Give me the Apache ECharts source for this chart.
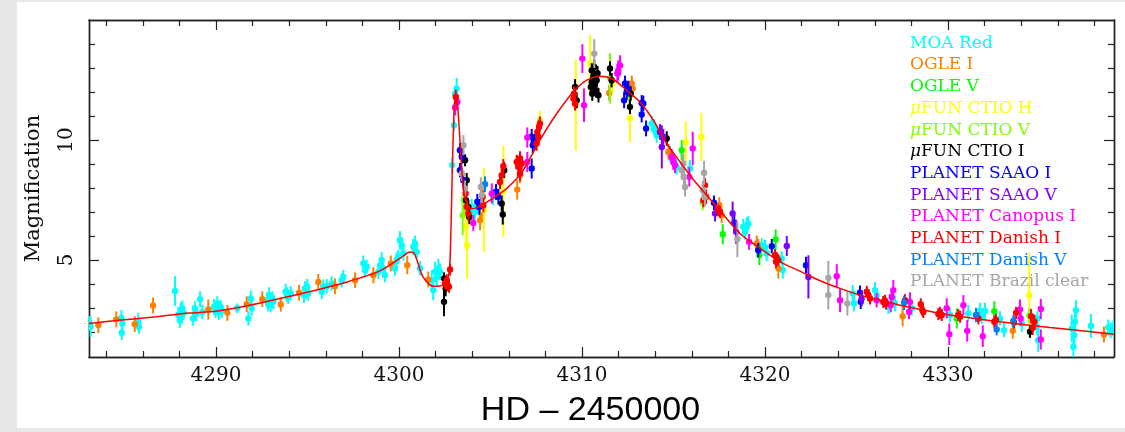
<!DOCTYPE html>
<html><head><meta charset="utf-8">
<script src="https://cdn.jsdelivr.net/npm/echarts@6/dist/echarts.min.js"></script>
<style>
html,body{margin:0;padding:0;background:#e8e8e8;overflow:hidden;}
#panel{position:absolute;left:17px;top:2px;width:1108px;height:426px;background:#fff;}
#chart{position:absolute;left:0;top:0;width:1125px;height:432px;}
</style></head><body>
<div id="panel"></div><div id="chart"></div>
<script>
// ---- tick values ----
const xMajorTicks = [4290, 4300, 4310, 4320, 4330];
const xMinorTicks = [4284,4286,4288,4292,4294,4296,4298,4302,4304,4306,4308,4312,4314,4316,4318,4322,4324,4326,4328,4332,4334,4336,4338];
const yMajorTicks = [5, 10];
const yMinorTicks = [2,3,4,6,7,8,9,11,12,13,14];

// ---- series names / colours ----
const seriesNames = ['MOA Red','OGLE I','OGLE V','μFUN CTIO H','μFUN CTIO V','μFUN CTIO I','PLANET SAAO I','PLANET SAAO V','PLANET Canopus I','PLANET Danish I','PLANET Danish V','PLANET Brazil clear'];

// ---- data: [HJD-2450000, magnification, error] ----
const moaRed = [[4283.15,2.21,0.42],[4283.10,2.36,0.3],[4284.83,2.58,0.33],[4284.88,2.35,0.33],[4284.85,1.96,0.3],[4285.75,2.42,0.38],[4285.79,2.21,0.3],[4287.76,3.70,0.62],[4287.94,2.70,0.33],[4288.02,2.49,0.33],[4288.07,2.90,0.33],[4288.12,2.62,0.3],[4288.16,2.98,0.33],[4288.22,2.80,0.3],[4288.74,2.56,0.3],[4288.85,2.98,0.3],[4288.92,2.75,0.3],[4289.13,3.36,0.33],[4289.25,2.83,0.3],[4289.89,3.04,0.33],[4289.98,2.90,0.33],[4290.07,3.18,0.3],[4290.12,2.95,0.3],[4290.16,2.83,0.33],[4290.26,3.02,0.3],[4290.32,2.88,0.3],[4291.16,2.98,0.2],[4291.77,2.56,0.3],[4291.90,3.39,0.33],[4291.95,2.98,0.3],[4292.80,3.32,0.33],[4292.85,3.15,0.3],[4292.90,3.53,0.33],[4292.99,3.11,0.3],[4293.08,3.39,0.3],[4293.14,3.25,0.3],[4293.81,3.67,0.33],[4293.88,3.55,0.3],[4293.95,3.46,0.3],[4294.08,3.60,0.3],[4294.81,3.53,0.33],[4294.86,3.81,0.3],[4294.93,3.68,0.3],[4294.99,3.88,0.33],[4295.04,3.60,0.3],[4295.78,3.67,0.3],[4295.86,3.88,0.3],[4296.05,3.90,0.3],[4296.32,4.02,0.3],[4296.87,4.15,0.3],[4296.96,4.29,0.3],[4298.05,4.85,0.33],[4298.14,4.57,0.3],[4298.23,4.71,0.3],[4298.87,4.50,0.3],[4298.96,4.78,0.33],[4299.05,4.99,0.33],[4299.14,4.64,0.3],[4299.23,4.36,0.3],[4299.78,4.64,0.3],[4299.87,4.99,0.33],[4299.96,5.13,0.3],[4300.05,5.82,0.38],[4300.15,5.61,0.33],[4300.24,5.27,0.3],[4300.78,5.54,0.33],[4300.87,5.68,0.33],[4300.97,5.33,0.3],[4301.15,4.64,0.3],[4301.79,4.15,0.42],[4301.87,3.74,0.42],[4301.97,4.50,0.42],[4302.06,4.29,0.42],[4302.15,4.64,0.4],[4302.24,4.50,0.35],[4302.91,8.95,0.33],[4303.01,10.61,0.25],[4303.06,11.93,0.33],[4303.15,12.14,0.45],[4303.88,6.93,0.33],[4303.97,7.21,0.33],[4304.15,7.00,0.33],[4305.15,7.63,0.35],[4313.81,10.68,0.33],[4313.93,10.54,0.33],[4313.99,10.40,0.33],[4314.08,10.20,0.33],[4314.81,9.43,0.33],[4315.17,8.88,0.33],[4315.90,8.81,0.35],[4318.81,6.38,0.33],[4318.91,6.17,0.33],[4319.00,6.45,0.33],[4319.09,6.52,0.3],[4319.82,5.61,0.3],[4320.00,5.54,0.3],[4320.09,5.27,0.33],[4320.91,5.06,0.3],[4320.97,4.57,0.35],[4324.79,3.60,0.35],[4324.86,3.18,0.33],[4326.01,3.74,0.33],[4326.10,3.53,0.3],[4326.74,3.04,0.3],[4327.10,3.18,0.33],[4328.02,2.98,0.3],[4330.11,2.70,0.3],[4331.11,2.77,0.35],[4331.75,2.88,0.33],[4331.84,2.63,0.3],[4332.02,2.88,0.33],[4332.84,2.56,0.3],[4333.06,2.07,0.3],[4334.03,2.35,0.35],[4334.85,2.21,0.35],[4334.88,2.56,0.3],[4334.93,1.65,0.5],[4336.76,2.14,0.58],[4336.85,1.38,0.42],[4336.90,1.86,0.5],[4336.94,2.42,0.5],[4336.99,2.90,0.42],[4337.81,2.25,0.5],[4338.76,2.18,0.33],[4338.89,2.07,0.33],[4339.03,2.14,0.33]];
const ogleI = [[4283.57,2.28,0.33],[4284.55,2.52,0.33],[4285.56,2.32,0.33],[4286.56,3.10,0.33],[4289.58,2.93,0.42],[4290.62,2.79,0.33],[4291.68,3.15,0.33],[4292.53,3.36,0.33],[4293.54,3.14,0.3],[4294.54,3.63,0.33],[4295.59,4.08,0.33],[4296.50,3.90,0.33],[4297.60,4.15,0.33],[4298.60,4.36,0.33],[4299.55,4.85,0.33],[4300.45,4.78,0.38],[4301.60,4.18,0.33],[4304.43,6.65,0.42],[4304.52,6.93,0.33],[4306.46,7.93,0.42],[4306.61,8.53,0.33],[4311.49,11.96,0.33],[4312.72,12.35,0.33],[4312.77,12.14,0.3],[4314.72,9.50,0.33],[4317.50,7.28,0.33],[4317.63,6.86,0.33],[4319.55,5.68,0.33],[4319.63,5.54,0.33],[4320.73,4.64,0.42],[4327.52,2.65,0.42],[4333.54,2.04,0.33],[4338.52,1.89,0.33]];
const ogleV = [[4315.45,9.57,0.42],[4317.69,6.07,0.42],[4319.69,5.20,0.42],[4320.58,5.85,0.42],[4330.48,2.56,0.42],[4332.53,2.86,0.42]];
const mufunH = [[4303.72,5.61,1.4],[4303.66,6.40,1.0],[4304.64,7.07,1.75],[4305.70,7.86,1.9],[4307.70,10.82,0.4],[4309.66,11.45,1.9],[4310.44,13.18,1.2],[4311.66,12.35,0.4],[4312.62,10.9,1.0],[4315.67,9.92,0.85],[4316.52,10.13,1.0],[4334.44,3.53,1.75]];
const mufunV = [[4303.48,6.86,0.83],[4303.55,7.49,0.5],[4311.53,12.57,1.05],[4312.58,11.79,0.33],[4316.59,7.40,0.33],[4334.44,2.68,0.3]];
const mufunI = [[4302.46,4.23,0.25],[4302.46,3.25,0.6],[4302.55,3.81,0.33],[4303.61,9.15,0.25],[4303.70,8.32,0.3],[4303.66,7.49,0.3],[4303.79,7.21,0.3],[4303.84,6.79,0.3],[4305.61,7.35,0.33],[4305.67,6.89,0.42],[4305.75,8.74,0.33],[4309.62,12.21,0.33],[4309.71,11.65,0.33],[4310.48,12.21,0.3],[4310.53,12.90,0.3],[4310.62,12.63,0.3],[4310.71,12.35,0.3],[4310.77,12.07,0.3],[4310.56,11.93,0.3],[4310.67,13.04,0.3],[4310.80,12.49,0.3],[4310.62,12.28,0.3],[4310.53,12.42,0.3],[4310.85,12.78,0.3],[4310.90,11.86,0.3],[4311.53,12.98,0.3],[4311.62,12.49,0.3],[4312.62,11.38,0.3],[4312.66,11.93,0.3],[4314.63,10.06,0.3],[4334.48,2.00,0.25]];
const saaoI = [[4303.33,9.57,0.3],[4303.43,9.29,0.3],[4303.51,8.32,0.3],[4303.33,8.74,0.3],[4304.28,7.42,0.33],[4304.39,7.21,0.33],[4305.30,7.83,0.33],[4305.43,7.63,0.33],[4307.25,10.13,0.33],[4307.31,9.78,0.33],[4307.25,8.81,0.42],[4307.43,9.92,0.33],[4312.35,12.35,0.33],[4312.44,12.00,0.33],[4312.30,11.65,0.33],[4312.53,12.14,0.33],[4313.26,11.54,0.33],[4313.35,11.52,0.33],[4313.26,11.06,0.33],[4313.50,10.48,0.33],[4317.21,7.38,0.3],[4318.32,6.54,0.33],[4319.63,5.40,0.3],[4320.37,5.57,0.3],[4322.24,4.78,0.35],[4325.19,3.63,0.3],[4325.23,3.25,0.3]];
const saaoV = [[4314.26,10.33,0.33],[4314.36,9.71,0.9],[4314.44,10.13,0.33],[4317.27,6.93,0.33],[4318.23,6.93,0.5],[4318.42,6.17,0.5],[4321.19,5.58,0.42],[4322.37,4.29,0.9],[4325.28,3.39,0.33]];
const canopusI = [[4303.06,11.35,0.33],[4303.19,11.58,0.33],[4304.06,6.54,0.33],[4305.07,7.77,0.42],[4307.01,10.10,0.42],[4307.01,9.08,0.42],[4310.02,13.39,0.6],[4310.11,11.45,0.7],[4311.98,12.90,0.42],[4312.08,13.11,0.42],[4311.93,12.77,0.4],[4314.90,9.29,0.33],[4314.99,9.08,0.33],[4315.08,8.95,0.33],[4316.05,9.64,0.7],[4315.86,8.46,0.4],[4319.13,5.75,0.33],[4323.92,4.32,0.5],[4324.10,3.32,0.5],[4326.10,3.32,0.3],[4327.01,3.74,0.42],[4326.92,3.46,0.3],[4326.87,3.11,0.3],[4327.92,3.25,0.4],[4327.87,2.83,0.3],[4329.93,2.98,0.42],[4330.07,1.90,0.45],[4330.84,3.11,0.42],[4331.05,2.04,0.45],[4331.90,1.82,0.45],[4333.93,2.93,0.42],[4333.97,2.56,0.3],[4335.07,2.95,0.42],[4335.07,1.68,0.42]];
const danishI = [[4302.51,4.02,0.25],[4302.61,4.15,0.25],[4302.66,3.95,0.25],[4302.73,3.88,0.25],[4302.79,4.60,0.25],[4303.10,11.79,0.3],[4303.70,7.21,0.3],[4303.79,6.93,0.3],[4303.64,7.77,0.3],[4304.57,7.63,0.3],[4304.61,7.28,0.3],[4305.52,8.25,0.3],[4305.61,8.53,0.3],[4305.70,8.90,0.3],[4306.43,9.08,0.3],[4306.52,8.88,0.3],[4306.61,9.23,0.3],[4306.70,9.02,0.3],[4306.61,8.60,0.3],[4307.56,10.33,0.3],[4307.65,10.54,0.3],[4307.70,10.68,0.3],[4307.61,10.13,0.3],[4307.52,9.85,0.3],[4309.56,11.93,0.3],[4309.62,11.52,0.3],[4309.53,11.73,0.3],[4316.72,8.11,0.3],[4316.78,7.63,0.3],[4316.63,7.49,0.3],[4317.45,7.07,0.25],[4317.54,7.00,0.25],[4320.55,5.20,0.25],[4320.64,5.06,0.25],[4320.73,4.99,0.25],[4320.60,4.92,0.25],[4325.56,3.67,0.25],[4325.65,3.53,0.25],[4325.74,3.39,0.25],[4326.46,3.25,0.25],[4326.61,3.18,0.25],[4326.56,3.29,0.25],[4327.65,3.32,0.25],[4328.51,3.15,0.25],[4328.60,2.90,0.25],[4328.65,2.83,0.25],[4329.47,2.74,0.25],[4329.56,2.79,0.25],[4329.66,2.70,0.25],[4330.56,2.70,0.25],[4330.66,2.63,0.25],[4331.66,2.56,0.25],[4332.53,2.42,0.25],[4332.62,2.49,0.25],[4333.61,2.39,0.25],[4333.72,2.79,0.25],[4334.54,2.65,0.3],[4334.63,2.17,0.3],[4334.72,2.42,0.3]];
const danishV = [[4304.70,8.15,0.33],[4327.60,3.21,0.3],[4331.53,2.70,0.3],[4332.66,2.10,0.25],[4333.57,2.45,0.25]];
const brazil = [[4303.52,9.78,0.42],[4303.43,8.60,0.33],[4303.61,7.98,0.33],[4304.47,8.04,0.4],[4304.52,7.70,0.33],[4310.67,13.60,0.6],[4315.45,8.74,0.4],[4315.57,8.46,0.4],[4315.54,9.02,0.4],[4315.63,8.04,0.4],[4316.67,8.63,0.5],[4316.60,7.90,0.4],[4316.72,7.63,0.4],[4318.49,5.86,0.75],[4323.46,4.25,0.7],[4323.46,3.53,0.6],[4324.50,3.18,0.5]];

// ---- model curve ----
const modelT = [4283.06,4284.86,4286.72,4288.52,4290.00,4291.86,4293.50,4295.14,4297.16,4298.96,4300.05,4300.60,4300.82,4300.98,4301.31,4301.86,4302.40,4302.68,4302.79,4302.90,4303.01,4303.11,4303.22,4303.33,4303.50,4303.70,4303.97,4304.43,4304.97,4305.89,4306.79,4307.70,4308.62,4309.52,4310.26,4310.98,4311.71,4312.44,4313.17,4313.90,4314.63,4315.36,4316.08,4316.81,4317.54,4318.63,4319.73,4320.82,4321.91,4323.01,4324.10,4325.19,4326.28,4327.38,4330.11,4332.84,4335.57,4339.07];
const modelA = [2.35,2.49,2.63,2.78,2.86,3.11,3.39,3.68,4.08,4.54,5.06,5.33,5.28,4.99,4.29,3.90,3.95,4.24,4.99,8.32,11.24,11.90,11.24,9.99,8.11,7.36,7.13,7.24,7.49,7.98,8.74,9.99,11.10,12.00,12.49,12.65,12.52,12.07,11.58,10.82,9.85,9.08,8.35,7.70,7.05,6.10,5.48,4.92,4.53,4.13,3.81,3.53,3.32,3.11,2.70,2.42,2.18,1.90];

const seriesData = [moaRed, ogleI, ogleV, mufunH, mufunV, mufunI, saaoI, saaoV, canopusI, danishI, danishV, brazil];
const colors = ['#00ffff','#ff8000','#00ff00','#ffff00','#80ff00','#000000','#0000ff','#8000ff','#ff00ff','#ff0000','#0080ff','#a6a6a6'];

const xMin = 4283.06, xMax = 4339.07, yMin = 0.95, yMax = 15.0;
const frame = '#222';
const serif = 'DejaVu Serif';

function mkX(pos, ticks, len, main) {
  return {
    type: 'value', position: pos, min: xMin, max: xMax,
    axisLine: {show: true, onZero: false, lineStyle: {color: frame, width: 1.4}},
    axisTick: {show: true, inside: true, length: len, customValues: ticks, lineStyle: {color: frame, width: 1.2}},
    axisLabel: main ? {show: true, customValues: xMajorTicks, formatter: v => String(v), fontFamily: serif, fontSize: 20, color: '#111', margin: 9} : {show: false},
    splitLine: {show: false},
    name: main ? 'HD – 2450000' : '', nameLocation: 'middle', nameGap: 37,
    nameTextStyle: {fontFamily: 'Liberation Sans', fontSize: 34, color: '#000', padding: [0, 22, 0, 0]}
  };
}
function mkY(pos, ticks, len, main) {
  return {
    type: 'value', position: pos, min: yMin, max: yMax,
    axisLine: {show: true, onZero: false, lineStyle: {color: frame, width: 1.4}},
    axisTick: {show: true, inside: true, length: len, customValues: ticks, lineStyle: {color: frame, width: 1.2}},
    axisLabel: main ? {show: true, customValues: yMajorTicks, formatter: v => String(v), rotate: 90, fontFamily: serif, fontSize: 20, color: '#111', margin: 12} : {show: false},
    splitLine: {show: false},
    name: main ? 'Magnification' : '', nameLocation: 'middle', nameGap: 45,
    nameTextStyle: {fontFamily: serif, fontSize: 21, color: '#111'}
  };
}

const chart = echarts.init(document.getElementById('chart'), null, {renderer: 'canvas'});

const pointSeries = seriesData.map((d, i) => ({
  type: 'custom', name: seriesNames[i], data: d, xAxisIndex: 0, yAxisIndex: 0,
  clip: true, z: 2 + i * 0.01,
  encode: {x: 0, y: 1},
  renderItem: (params, api) => {
    const t = api.value(0), a = api.value(1), e = api.value(2);
    const p = api.coord([t, a]);
    const hi = api.coord([t, a + e]);
    const lo = api.coord([t, a - e]);
    return {type: 'group', children: [
      {type: 'line', shape: {x1: p[0], y1: hi[1], x2: p[0], y2: lo[1]}, style: {stroke: colors[i], lineWidth: 2}},
      {type: 'circle', shape: {cx: p[0], cy: p[1], r: 3.2}, style: {fill: colors[i]}}
    ]};
  }
}));

chart.setOption({
  animation: false,
  backgroundColor: 'transparent',
  grid: {left: 89, right: 11, top: 20, bottom: 75, containLabel: false, outerBoundsMode: 'none'},
  xAxis: [mkX('bottom', xMajorTicks, 10, true), mkX('bottom', xMinorTicks, 6, false), mkX('top', xMajorTicks, 10, false), mkX('top', xMinorTicks, 6, false)],
  yAxis: [mkY('left', yMajorTicks, 10, true), mkY('left', yMinorTicks, 6, false), mkY('right', yMajorTicks, 10, false), mkY('right', yMinorTicks, 6, false)],
  legend: {
    orient: 'vertical', left: 905, top: 32.5, padding: 0, itemGap: 0,
    icon: 'none', itemWidth: 0, itemHeight: 14, selectedMode: false,
    data: seriesNames.map((n, i) => ({name: n, textStyle: {color: colors[i]}})),
    formatter: n => n.charAt(0) === 'μ' ? '{mu|μ}' + n.slice(1) : n,
    textStyle: {fontFamily: serif, fontSize: 17, lineHeight: 21.7,
      rich: {mu: {fontStyle: 'italic', fontFamily: serif, fontSize: 17, lineHeight: 21.7}}}
  },
  series: pointSeries.concat([{
    type: 'line', name: 'model', data: modelT.map((t, k) => [t, modelA[k]]),
    xAxisIndex: 0, yAxisIndex: 0, showSymbol: false, symbol: 'none', smooth: 0.25,
    lineStyle: {color: '#ff0000', width: 1.5}, z: 5, clip: true, silent: true
  }])
});
</script></body></html>
